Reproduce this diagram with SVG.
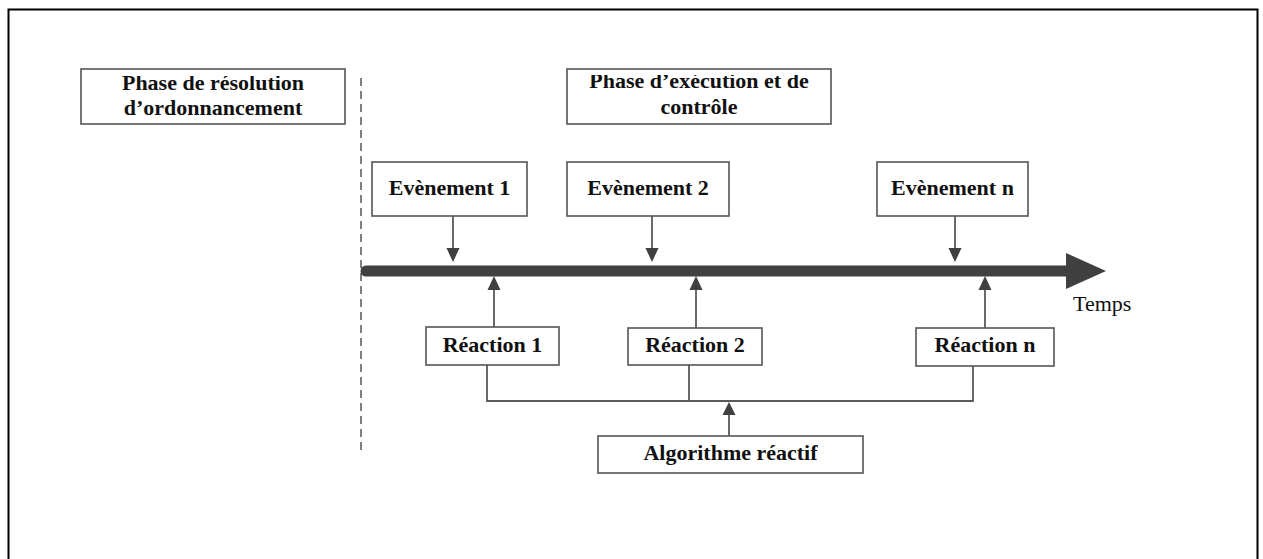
<svg xmlns="http://www.w3.org/2000/svg" width="1263" height="559" viewBox="0 0 1263 559">
<style>
.box{fill:#fff;stroke:#555;stroke-width:1.6}
.t{font-family:"Liberation Serif","Times New Roman",serif;font-weight:bold;font-size:22px;fill:#111;text-anchor:middle}
.c{fill:none;stroke:#5a5a5a;stroke-width:1.8}
.head{fill:#404040}
</style>
<defs>
<clipPath id="clipL"><rect x="81" y="76" width="264" height="48"/></clipPath>
<clipPath id="clipR"><rect x="567" y="75" width="264" height="49"/></clipPath>
</defs>
<rect x="0" y="0" width="1263" height="559" fill="#fff"/>
<rect x="8.5" y="9.5" width="1249" height="600" fill="none" stroke="#000" stroke-width="2"/>

<g id="connectors">
  <line x1="361" y1="78" x2="361" y2="455" stroke="#555" stroke-width="1.5" stroke-dasharray="8,5"/>
  <line x1="366" y1="271" x2="1068" y2="271" stroke="#404040" stroke-width="11" stroke-linecap="round"/>
  <polygon class="head" points="1066,253 1106,271 1066,289"/>
  <line class="c" x1="453" y1="216" x2="453" y2="250"/>
  <polygon class="head" points="446.5,248 459.5,248 453,262"/>
  <line class="c" x1="652" y1="216" x2="652" y2="250"/>
  <polygon class="head" points="645.5,248 658.5,248 652,262"/>
  <line class="c" x1="955" y1="216" x2="955" y2="250"/>
  <polygon class="head" points="948.5,248 961.5,248 955,262"/>
  <line class="c" x1="494" y1="327" x2="494" y2="288"/>
  <polygon class="head" points="487.5,290 500.5,290 494,276"/>
  <line class="c" x1="696" y1="328" x2="696" y2="288"/>
  <polygon class="head" points="689.5,290 702.5,290 696,276"/>
  <line class="c" x1="985" y1="328" x2="985" y2="288"/>
  <polygon class="head" points="978.5,290 991.5,290 985,276"/>
  <polyline class="c" points="487,365 487,401 973,401 973,366"/>
  <line class="c" x1="689" y1="365" x2="689" y2="401"/>
  <line class="c" x1="729" y1="436" x2="729" y2="412"/>
  <polygon class="head" points="722.5,415 735.5,415 729,402"/>
</g>

<g id="phase-resolution">
  <rect class="box" x="81" y="69" width="264" height="55"/>
  <g clip-path="url(#clipL)">
    <text class="t" x="213" y="90">Phase de résolution</text>
  </g>
  <text class="t" x="213" y="115">d’ordonnancement</text>
</g>

<g id="phase-execution">
  <rect class="box" x="567" y="69" width="264" height="55"/>
  <g clip-path="url(#clipR)">
    <text class="t" x="699" y="88">Phase d’exécution et de</text>
  </g>
  <text class="t" x="699" y="114">contrôle</text>
</g>

<g id="evenement-1">
  <rect class="box" x="372" y="162" width="155" height="54"/>
  <text class="t" x="449.5" y="195">Evènement 1</text>
</g>
<g id="evenement-2">
  <rect class="box" x="567" y="162" width="162" height="54"/>
  <text class="t" x="648" y="195">Evènement 2</text>
</g>
<g id="evenement-n">
  <rect class="box" x="877" y="162" width="151" height="54"/>
  <text class="t" x="952.5" y="195">Evènement n</text>
</g>

<g id="temps">
  <text x="1073" y="311" font-family="'Liberation Serif','Times New Roman',serif" font-size="22" fill="#111">Temps</text>
</g>

<g id="reaction-1">
  <rect class="box" x="426" y="327" width="133" height="38"/>
  <text class="t" x="492.5" y="352">Réaction 1</text>
</g>
<g id="reaction-2">
  <rect class="box" x="628" y="328" width="134" height="37"/>
  <text class="t" x="695" y="352">Réaction 2</text>
</g>
<g id="reaction-n">
  <rect class="box" x="916" y="328" width="138" height="38"/>
  <text class="t" x="985" y="352">Réaction n</text>
</g>

<g id="algorithme">
  <rect class="box" x="598" y="436" width="265" height="37"/>
  <text class="t" x="730.5" y="460">Algorithme réactif</text>
</g>
</svg>
